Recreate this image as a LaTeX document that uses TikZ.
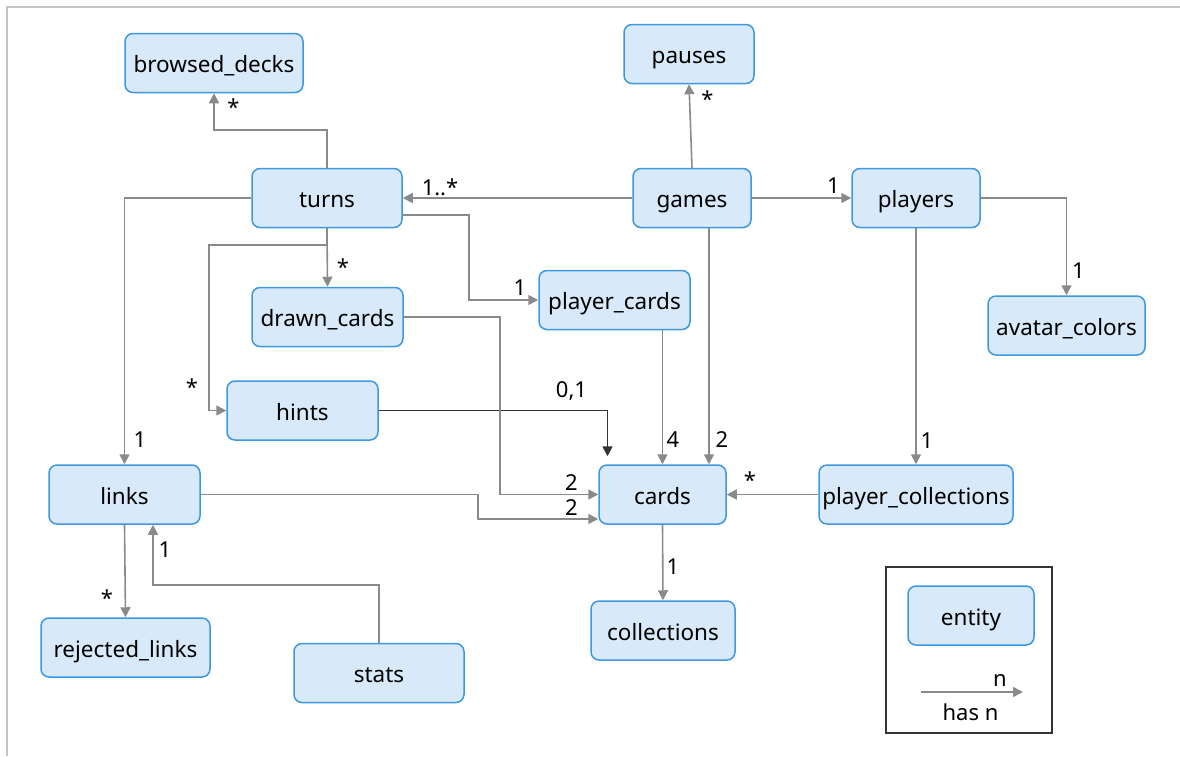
\documentclass[tikz,border=0pt]{standalone}
\usepackage{fontspec}
\setmainfont{Noto Sans}
\usetikzlibrary{arrows.meta,calc}
\definecolor{boxfill}{HTML}{D8EAF9}
\definecolor{boxline}{HTML}{3D98E0}
\definecolor{relgray}{HTML}{8A8A8A}
\definecolor{framegray}{HTML}{C4C4C4}
\definecolor{darkrel}{HTML}{333333}
\begin{document}
\begin{tikzpicture}[x=1pt,y=-1pt,
  entitybox/.style={draw=boxline, fill=boxfill, line width=1.5pt,
    rounded corners=8pt, minimum height=59pt, inner sep=0pt,
    text height=19pt, text depth=0pt,
    font=\fontsize{22.5}{26}\selectfont},
  rel/.style={draw=relgray, line width=1.6pt,
    -{Triangle[length=10pt,width=10pt]}},
  strongrel/.style={rel, draw=darkrel},
  lbl/.style={inner sep=0pt, font=\fontsize{22}{26}\selectfont},
]
\useasboundingbox (0,0) rectangle (1180,756);
% outer frame
\draw[framegray, line width=2pt] (1180,7) -- (7,7) -- (7,756);

% entities
\node[entitybox, minimum width=178pt] (browsed_decks) at (214,63) {browsed\_decks};
\node[entitybox, minimum width=130pt] (pauses) at (689,54) {pauses};
\node[entitybox, minimum width=150pt] (turns) at (327,198) {turns};
\node[entitybox, minimum width=118pt] (games) at (692,198) {games};
\node[entitybox, minimum width=128pt] (players) at (916,198) {players};
\node[entitybox, minimum width=151pt] (drawn_cards) at (327.5,317) {drawn\_cards};
\node[entitybox, minimum width=151pt] (player_cards) at (614.5,300) {player\_cards};
\node[entitybox, minimum width=157pt] (avatar_colors) at (1066.5,325.5) {avatar\_colors};
\node[entitybox, minimum width=151pt] (hints) at (302.5,410.5) {hints};
\node[entitybox, minimum width=151pt] (links) at (124.5,494.5) {links};
\node[entitybox, minimum width=127pt] (cards) at (662.5,494.5) {cards};
\node[entitybox, minimum width=194pt] (player_collections) at (916,494.5) {player\_collections};
\node[entitybox, minimum width=169pt] (rejected_links) at (125.5,647.5) {rejected\_links};
\node[entitybox, minimum width=170pt] (stats) at (379,673) {stats};
\node[entitybox, minimum width=144pt] (collections) at (663,630.5) {collections};

% relations
\draw[rel] (turns.north) -- ++(0,-38) -| (browsed_decks.south);
\draw[rel] (games.north) -- (pauses.south);
\draw[rel] (games.west) -- (turns.east);
\draw[rel] (games.east) -- (players.west);
\draw[rel] (players.east) -| (avatar_colors.north);
\draw[rel] (players.south) -- (player_collections.north);
\draw[rel] ($(games.south)+(17,0)$) -- ($(cards.north)+(46.5,0)$);
\draw[rel] ($(player_cards.south)+(48,0)$) -- (cards.north);
\draw[strongrel, shorten >=8pt] (hints.east) -| ($(cards.north)+(-55,0)$);
\draw[rel] (turns.south) -- (drawn_cards.north);
\draw[rel] (turns.south) -- ++(0,17) -| ($(hints.west)+(-17,0)$) -- (hints.west);
\draw[rel] ($(turns.east)+(0,17)$) -| ($(player_cards.west)+(-69,0)$) -- (player_cards.west);
\draw[rel] (turns.west) -| (links.north);
\draw[rel] (drawn_cards.east) -| ($(cards.west)+(-98,0)$) -- (cards.west);
\draw[rel] (links.east) -| ($(cards.west)+(-120,24.5)$) -- ($(cards.west)+(0,24.5)$);
\draw[rel] (player_collections.west) -- (cards.east);
\draw[rel] (cards.south) -- (collections.north);
\draw[rel] (links.south) -- (rejected_links.north);
\draw[rel] (stats.north) |- ($(links.south)+(28.5,60)$) -- ($(links.south)+(28.5,0)$);

% multiplicities
\node[lbl] (m_bd) at (233.5,107.5) {*};
\node[lbl] (m_pa) at (707.5,99) {*};
\node[lbl] (m_tu) at (440,187) {1..*};
\node[lbl] (m_pl) at (833.5,185.5) {1};
\node[lbl] (m_av) at (1078.5,271) {1};
\node[lbl] (m_pc) at (927,440.5) {1};
\node[lbl] (m_gc) at (722,440) {2};
\node[lbl] (m_pcc) at (673,440) {4};
\node[lbl, anchor=base] (m_hc) at (571.5,397) {0,1};
\node[lbl] (m_dc) at (343,267.5) {*};
\node[lbl] (m_pk) at (520,287.5) {1};
\node[lbl] (m_hi) at (192,387) {*};
\node[lbl] (m_li) at (140,440) {1};
\node[lbl] (m_rl) at (107,598) {*};
\node[lbl] (m_st) at (165,550) {1};
\node[lbl] (m_dcc) at (571.5,482.5) {2};
\node[lbl] (m_lc) at (571.5,507.5) {2};
\node[lbl] (m_pcs) at (750,480) {*};
\node[lbl] (m_co) at (673,567) {1};

% legend
\node[draw=darkrel, line width=1.5pt, minimum width=166pt, minimum height=166pt, inner sep=0pt] (legend) at (969,650) {};
\node[entitybox, minimum width=126pt] (entity) at (971,615.5) {entity};
\coordinate (lg_a) at (921,692);
\coordinate (lg_b) at (1023,692);
\draw[rel] (lg_a) -- (lg_b);
\node[lbl] (lg_n) at (1000,680) {n};
\node[lbl] (lg_t) at (970.5,712) {has n};
\end{tikzpicture}
\end{document}
